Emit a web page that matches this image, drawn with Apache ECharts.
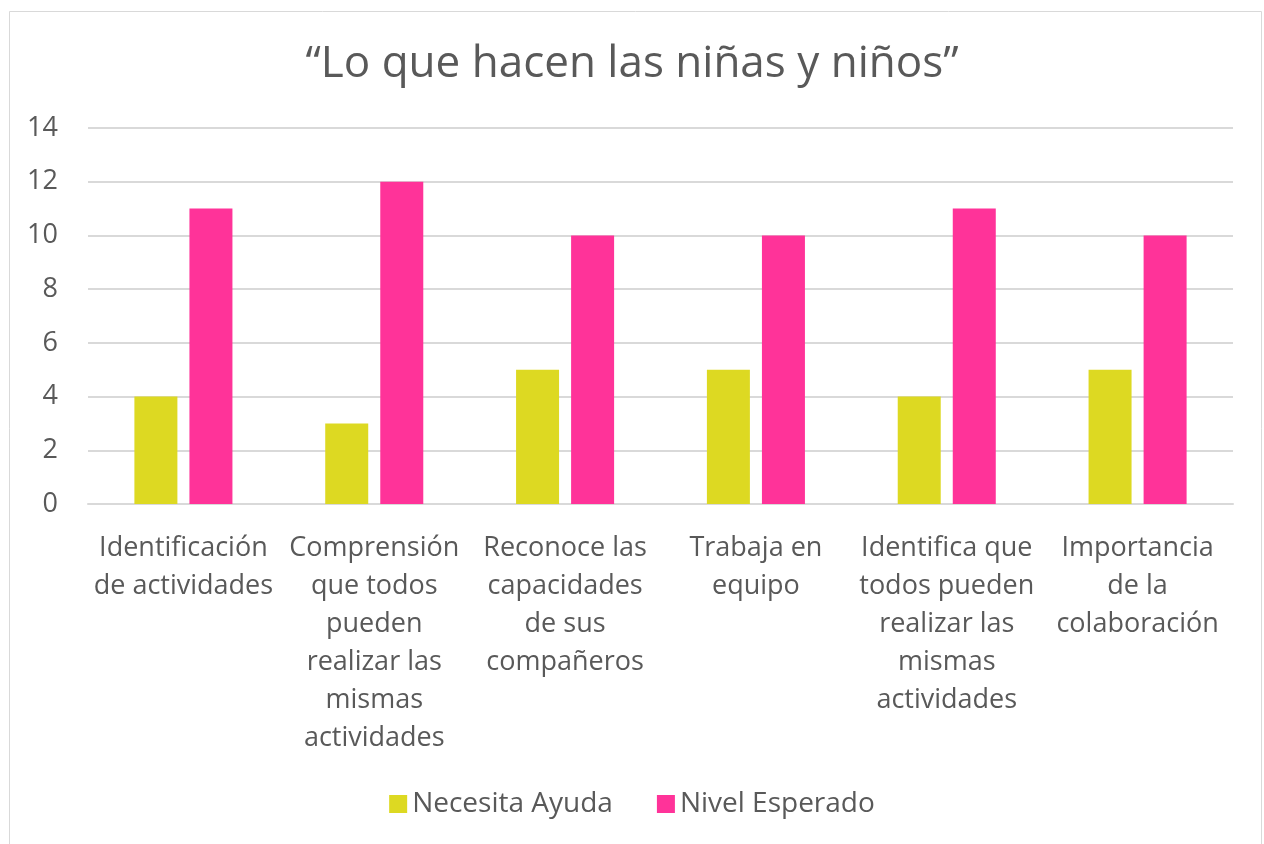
<!DOCTYPE html>
<html>
<head>
<meta charset="utf-8">
<script src="https://cdn.jsdelivr.net/npm/echarts@6/dist/echarts.min.js"></script>
<style>
  html, body { margin: 0; padding: 0; background: #fff; }
  #main { width: 1264px; height: 844px; }
</style>
</head>
<body>
<div id="main"></div>
<script>
var categories = [
    'Identificación\nde actividades',
    'Comprensión\nque todos\npueden\nrealizar las\nmismas\nactividades',
    'Reconoce las\ncapacidades\nde sus\ncompañeros',
    'Trabaja en\nequipo',
    'Identifica que\ntodos pueden\nrealizar las\nmismas\nactividades',
    'Importancia\nde la\ncolaboración'
];
var necesitaAyuda = [4, 3, 5, 5, 4, 5];
var nivelEsperado = [11, 12, 10, 10, 11, 10];

var textColor = '#595959';
var font = '"Open Sans", "Noto Sans", sans-serif';

var myChart = echarts.init(document.getElementById('main'));
myChart.setOption({
    backgroundColor: '#fff',
    textStyle: { fontFamily: font },
    title: {
        text: '“Lo que hacen las niñas y niños”',
        left: 'center',
        top: 37,
        textStyle: { fontSize: 44, fontWeight: 'normal', color: textColor, fontFamily: font }
    },
    graphic: [{
        type: 'rect',
        shape: { x: 9.5, y: 11.5, width: 1252, height: 840 },
        style: { fill: 'none', stroke: '#d9d9d9', lineWidth: 1 },
        silent: true
    }],
    legend: {
        data: ['Necesita Ayuda', 'Nivel Esperado'],
        bottom: 21,
        left: 'center',
        icon: 'rect',
        itemWidth: 18,
        itemHeight: 18,
        itemGap: 44,
        textStyle: { fontSize: 28, color: textColor, fontFamily: font }
    },
    grid: { left: 88, right: 31, top: 128, bottom: 340 },
    xAxis: {
        type: 'category',
        data: categories,
        axisLine: { show: true, lineStyle: { color: '#d9d9d9', width: 2 } },
        axisTick: { show: false },
        axisLabel: {
            interval: 0,
            fontSize: 27,
            lineHeight: 38,
            color: textColor,
            margin: 25,
            verticalAlign: 'top'
        }
    },
    yAxis: {
        type: 'value',
        min: 0,
        max: 14,
        interval: 2,
        axisLine: { show: false },
        axisTick: { show: false },
        splitLine: { lineStyle: { color: '#d9d9d9', width: 2 } },
        axisLabel: { fontSize: 27, color: textColor, margin: 30 }
    },
    series: [{
        name: 'Necesita Ayuda',
        type: 'bar',
        data: necesitaAyuda,
        barWidth: 43,
        barGap: '28%',
        itemStyle: { color: '#DDD922' }
    }, {
        name: 'Nivel Esperado',
        type: 'bar',
        data: nivelEsperado,
        barWidth: 43,
        itemStyle: { color: '#FF3399' }
    }]
});
</script>
</body>
</html>
